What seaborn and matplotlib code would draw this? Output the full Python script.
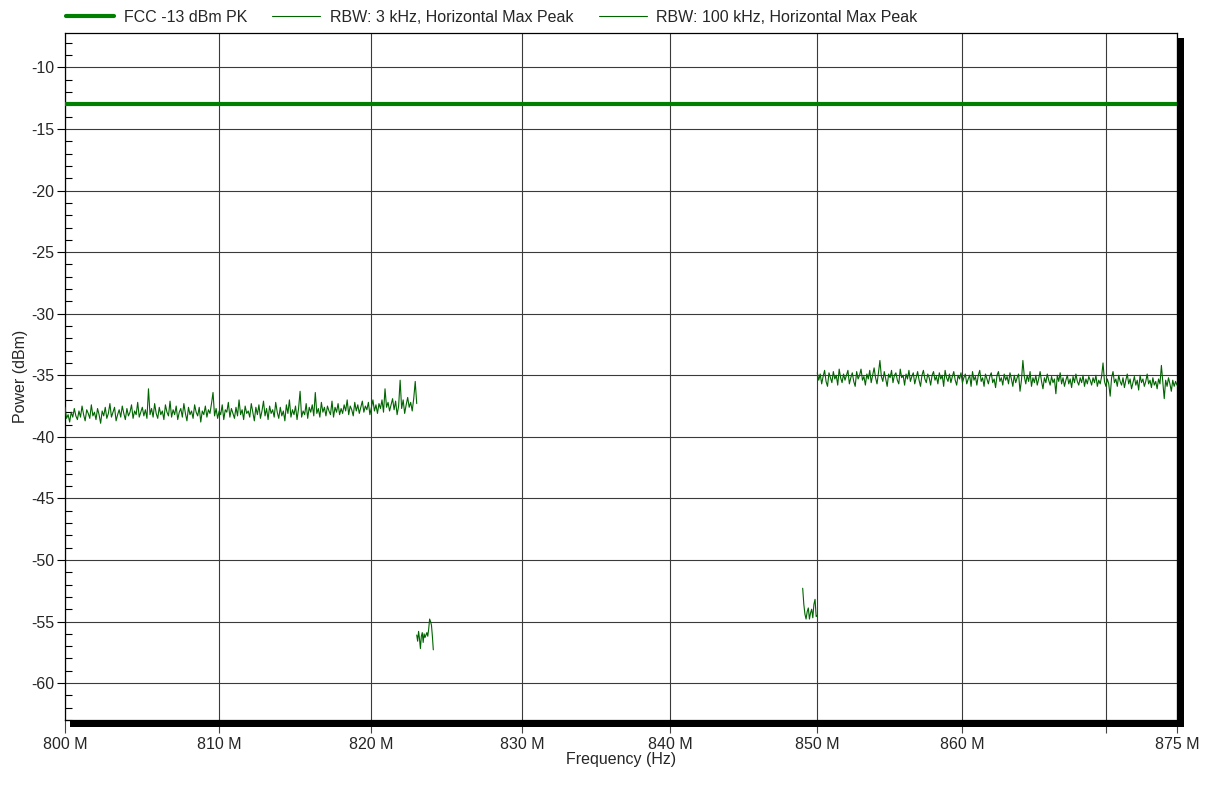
import numpy as np
import pandas as pd
import seaborn as sns
import matplotlib
matplotlib.use("Agg")
import matplotlib.pyplot as plt
from matplotlib.patches import Rectangle
from matplotlib.ticker import FixedLocator, FixedFormatter, MultipleLocator, NullLocator

# ---- data -------------------------------------------------------------
fcc_limit_dbm = -13.0
fcc_span_mhz = [800.0, 875.0]

# wide sweeps (0.1 MHz step)
low_band_start, low_band_stop = 800.0, 823.0
low_band_dbm = [
    -37.6, -38.5, -38.2, -38.8, -38.0, -38.4, -37.7, -38.3, -38.6, -37.9,
    -38.4, -37.5, -38.2, -38.7, -37.8, -38.1, -38.5, -37.4, -38.3, -38.0,
    -38.6, -37.7, -38.2, -38.9, -37.9, -38.3, -37.6, -38.5, -38.1, -37.3,
    -38.4, -38.0, -37.6, -38.7, -38.2, -37.8, -38.4, -37.5, -38.1, -38.6,
    -37.7, -38.3, -38.0, -37.4, -38.5, -37.9, -38.2, -37.2, -38.4, -38.0,
    -37.6, -38.3, -37.8, -38.5, -36.1, -38.2, -37.7, -38.4, -37.3, -38.1,
    -38.5, -37.6, -38.2, -37.9, -38.6, -37.4, -38.0, -38.3, -37.1, -38.4,
    -37.8, -38.2, -37.5, -38.6, -38.0, -37.7, -38.4, -37.3, -38.1, -38.7,
    -37.6, -38.2, -37.9, -38.5, -37.4, -38.0, -38.3, -37.6, -38.8, -37.9,
    -38.2, -37.5, -38.4, -37.8, -38.1, -37.3, -36.4, -38.3, -37.7, -38.5,
    -37.9, -38.2, -37.4, -38.6, -37.8, -38.0, -37.2, -38.4, -37.7, -38.1,
    -38.5, -37.6, -38.3, -37.0, -38.2, -37.8, -38.6, -37.5, -38.1, -37.9,
    -38.4, -37.3, -38.0, -38.7, -37.6, -38.2, -37.4, -38.5, -37.9, -37.1,
    -38.3, -37.7, -38.6, -37.5, -38.1, -37.8, -38.4, -37.2, -38.0, -38.5,
    -37.6, -38.3, -37.9, -38.7, -37.4, -38.1, -37.0, -38.4, -37.8, -38.2,
    -37.5, -38.6, -37.7, -36.3, -38.4, -37.9, -38.2, -37.3, -38.5, -37.6,
    -38.0, -37.4, -38.3, -36.4, -38.1, -37.7, -38.4, -37.2, -38.0, -37.6,
    -38.3, -37.5, -37.9, -38.2, -37.1, -38.4, -37.6, -38.0, -37.3, -38.2,
    -37.7, -38.1, -37.4, -37.9, -37.0, -38.2, -37.5, -37.8, -38.3, -37.2,
    -37.9, -37.4, -38.1, -37.6, -37.1, -38.0, -37.5, -37.8, -37.2, -38.2,
    -37.6, -37.0, -37.9, -37.4, -38.1, -37.3, -37.7, -37.0, -38.0, -36.1,
    -37.6, -37.2, -37.9, -37.4, -36.9, -37.8, -37.1, -38.2, -37.5, -35.4,
    -37.7, -37.0, -38.1, -37.4, -36.8, -37.6, -37.2, -37.9, -36.9, -35.5,
    -37.3,
]

high_band_start, high_band_stop = 850.0, 875.0
high_band_dbm = [
    -34.8, -35.4, -34.9, -35.7, -35.1, -34.6, -35.5, -35.9, -34.8, -35.2,
    -35.6, -34.7, -35.3, -35.0, -35.8, -34.5, -35.2, -35.6, -34.9, -35.4,
    -35.0, -34.6, -35.7, -35.2, -34.8, -35.5, -35.9, -34.7, -35.3, -35.0,
    -34.5, -35.4, -35.1, -35.8, -34.9, -35.3, -34.6, -35.6, -35.0, -34.4,
    -35.2, -35.7, -34.8, -33.8, -35.1, -35.5, -34.7, -35.3, -35.9, -34.9,
    -35.2, -34.6, -35.6, -35.0, -34.8, -35.4, -35.7, -34.5, -35.2, -35.0,
    -35.8, -34.9, -35.3, -34.6, -35.5, -35.1, -34.8, -35.7, -35.2, -34.7,
    -35.4, -35.9, -35.0, -34.6, -35.3, -35.6, -34.9, -35.2, -35.8, -35.0,
    -34.7, -35.4, -35.1, -35.7, -34.8, -35.3, -35.0, -35.9, -34.6, -35.2,
    -35.5, -34.9, -35.6, -35.1, -34.7, -35.4, -35.8, -35.0, -35.3, -34.8,
    -35.6, -35.2, -34.9, -35.7, -35.3, -35.0, -35.9, -34.7, -35.4, -35.1,
    -35.8, -35.0, -34.6, -35.5, -35.2, -35.9, -34.9, -35.3, -35.7, -35.1,
    -34.8, -35.6, -35.3, -36.0, -35.0, -34.7, -35.5, -35.2, -35.8, -34.9,
    -35.4, -35.1, -35.7, -34.8, -35.3, -35.9, -35.0, -35.6, -35.2, -34.9,
    -36.3, -35.4, -33.8, -35.1, -35.7, -35.0, -35.5, -34.7, -35.9, -35.2,
    -35.6, -35.0, -35.8, -35.3, -34.7, -35.5, -36.1, -35.2, -35.6, -34.9,
    -35.4, -35.8, -35.1, -35.6, -35.3, -36.5, -35.0, -35.5, -34.8, -35.7,
    -35.2, -35.9, -35.4, -35.0, -35.7, -35.3, -36.0, -35.1, -35.6, -34.9,
    -35.5, -35.8, -35.2, -35.6, -35.0, -35.9, -35.3, -35.7, -35.1, -35.4,
    -35.8, -35.2, -35.6, -35.0, -35.9, -35.4, -35.7, -35.1, -34.0, -35.5,
    -35.9, -35.3, -35.7, -36.7, -35.2, -34.7, -35.6, -35.3, -35.9, -35.0,
    -35.5, -35.8, -35.2, -36.0, -35.4, -34.9, -35.7, -35.3, -36.1, -35.6,
    -35.1, -35.8, -35.4, -36.2, -35.0, -35.6, -35.3, -35.9, -35.5, -34.9,
    -35.7, -35.4, -36.0, -35.2, -35.8, -35.5, -36.1, -35.3, -35.7, -34.2,
    -35.6, -36.9, -35.4, -35.9, -35.2, -35.7, -36.3, -35.4, -35.9, -35.5,
    -35.8,
]

# band-edge sweeps
edge_low_start, edge_low_stop = 823.0, 824.1
edge_low_dbm = [
    -56.1, -56.6, -55.8, -56.4, -57.2, -56.2, -55.9, -56.7, -56.0, -56.3,
    -56.1, -55.9, -56.2, -55.6, -54.8, -55.0, -55.3, -56.2, -57.3,
]

edge_high_start, edge_high_stop = 849.0, 850.0
edge_high_dbm = [
    -52.3, -53.6, -54.4, -54.8, -54.2, -53.9, -54.8, -54.3, -54.0, -54.7,
    -53.6, -53.2, -54.6, -54.5,
]

x_ticks = [800, 810, 820, 830, 840, 850, 860, 870, 875]
x_tick_labels = ["800 M", "810 M", "820 M", "830 M", "840 M", "850 M", "860 M", "", "875 M"]
y_ticks = [-10, -15, -20, -25, -30, -35, -40, -45, -50, -55, -60]

series_labels = ["FCC -13 dBm PK", "RBW: 3 kHz, Horizontal Max Peak",
                 "RBW: 100 kHz, Horizontal Max Peak"]


def sweep(start, stop, values):
    return pd.DataFrame({"freq": np.linspace(start, stop, len(values)),
                         "dbm": values})


# ---- style --------------------------------------------------------------
sns.set_theme(style="white")
plt.rcParams["font.family"] = ["Liberation Sans", "DejaVu Sans"]
plt.rcParams["axes.unicode_minus"] = False

FS = 11.5
limit_color = "#008000"
trace_color = "#006400"
W, H = 1208, 796

fig = plt.figure(figsize=(W / 100, H / 100), dpi=100)
ax = fig.add_axes([65 / W, 1 - 720 / H, (1177 - 65) / W, (720 - 33) / H])

# ---- marks --------------------------------------------------------------
fcc = pd.DataFrame({"freq": fcc_span_mhz, "dbm": [fcc_limit_dbm] * 2})
sns.lineplot(data=fcc, x="freq", y="dbm", ax=ax, color=limit_color, lw=3.0,
             estimator=None, sort=False, label=series_labels[0], zorder=3)

sns.lineplot(data=sweep(edge_low_start, edge_low_stop, edge_low_dbm), x="freq", y="dbm",
             ax=ax, color=trace_color, lw=0.8, estimator=None, sort=False,
             label=series_labels[1], zorder=3)
sns.lineplot(data=sweep(edge_high_start, edge_high_stop, edge_high_dbm), x="freq", y="dbm",
             ax=ax, color=trace_color, lw=0.8, estimator=None, sort=False,
             label="_nolegend_", zorder=3)

sns.lineplot(data=sweep(low_band_start, low_band_stop, low_band_dbm), x="freq", y="dbm",
             ax=ax, color=trace_color, lw=0.8, estimator=None, sort=False,
             label=series_labels[2], zorder=3)
sns.lineplot(data=sweep(high_band_start, high_band_stop, high_band_dbm), x="freq", y="dbm",
             ax=ax, color=trace_color, lw=0.8, estimator=None, sort=False,
             label="_nolegend_", zorder=3)

# ---- axes ---------------------------------------------------------------
ax.set_xscale("log")
ax.set_xlim(800, 875)
ax.set_ylim(-63, -7.2)

ax.xaxis.set_major_locator(FixedLocator(x_ticks))
ax.xaxis.set_major_formatter(FixedFormatter(x_tick_labels))
ax.xaxis.set_minor_locator(NullLocator())
ax.yaxis.set_major_locator(FixedLocator(y_ticks))
ax.yaxis.set_major_formatter(FixedFormatter([str(v) for v in y_ticks]))
ax.yaxis.set_minor_locator(MultipleLocator(1))

ax.tick_params(axis="x", which="major", direction="out", length=9, width=0.8,
               color="#444444", labelsize=FS, pad=3, bottom=True)
ax.tick_params(axis="y", which="major", direction="out", length=5.5, width=0.8,
               color="black", labelsize=FS, pad=2, left=True)
ax.tick_params(axis="y", which="minor", direction="in", length=5, width=0.8,
               color="black", left=True, right=False)

ax.grid(True, which="major", axis="both", color="#3a3a3a", lw=0.8)
ax.set_axisbelow(True)
for side in ["top", "left", "right", "bottom"]:
    ax.spines[side].set_visible(True)
    ax.spines[side].set_color("black")
    ax.spines[side].set_linewidth(0.9)

ax.set_xlabel("Frequency (Hz)", fontsize=FS)
ax.set_ylabel("Power (dBm)", fontsize=FS)
ax.xaxis.set_label_coords(0.5, -0.047)
ax.yaxis.set_label_coords(-0.033, 0.5)

# drop shadow along the right and bottom edges of the plot frame
shadow_kw = dict(transform=fig.transFigure, facecolor="black", edgecolor="none", zorder=5)
fig.add_artist(Rectangle((1177 / W, 1 - 727 / H), 7 / W, (727 - 38) / H, **shadow_kw))
fig.add_artist(Rectangle((70 / W, 1 - 727 / H), (1184 - 70) / W, 7 / H, **shadow_kw))

# ---- legend -------------------------------------------------------------
handles, labels = ax.get_legend_handles_labels()
if ax.get_legend() is not None:
    ax.get_legend().remove()
fig.legend(handles, labels, loc="center left", bbox_to_anchor=(66 / W, 1 - 17 / H),
           ncol=3, frameon=False, fontsize=FS, handlelength=3.0,
           handletextpad=0.6, columnspacing=1.6, borderpad=0, borderaxespad=0)

fig.savefig("out.png", dpi=100)
